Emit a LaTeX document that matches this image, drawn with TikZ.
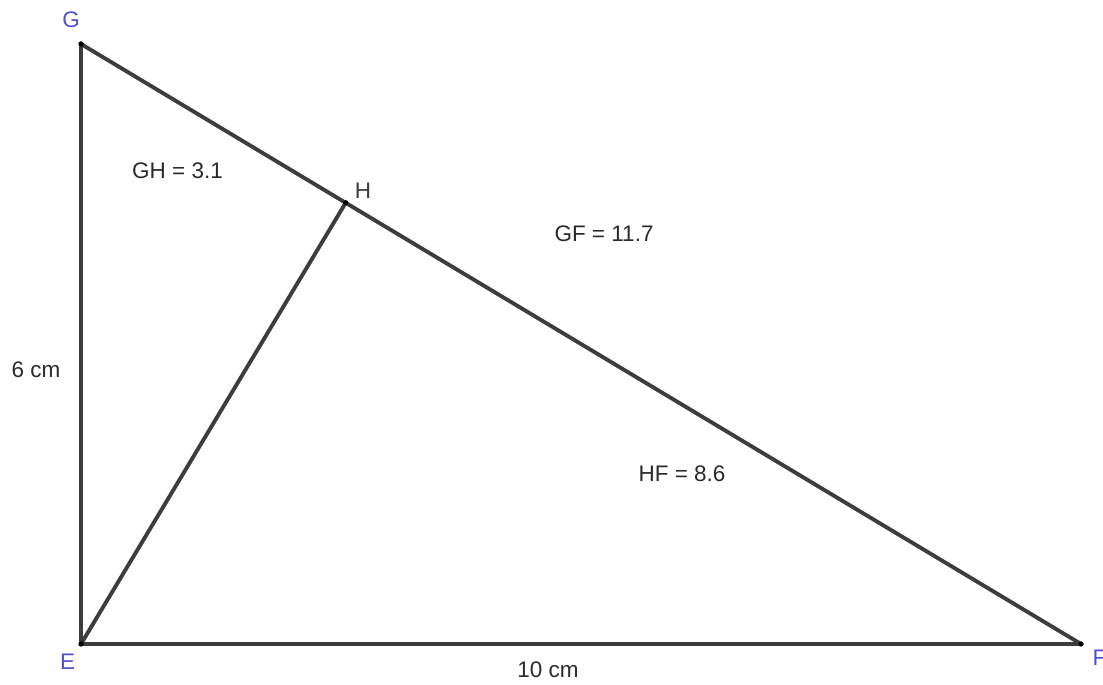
\documentclass[tikz,border=0pt]{standalone}
\usepackage{fontspec}
\setmainfont{Liberation Sans}
\definecolor{seg}{HTML}{3C3C3C}
\definecolor{ptlab}{HTML}{5050CC}
\definecolor{txt}{HTML}{2A2A2A}
\begin{document}
\begin{tikzpicture}[x=1cm,y=1cm,
  segment/.style={draw=seg,line width=1.1pt},
  ptlabel/.style={text=ptlab,inner sep=0pt,font=\fontsize{6.4}{7.5}\selectfont},
  measure/.style={text=txt,inner sep=0pt,font=\fontsize{6.4}{7.5}\selectfont},
  dot/.style={fill=black,draw=none}]
\useasboundingbox (-0.81,-0.41) rectangle (10.22,6.44);
\coordinate (E) at (0,0);
\coordinate (G) at (0,6);
\coordinate (F) at (10,0);
\coordinate (H) at (2.647,4.412);
\draw[segment] (E) -- (G);
\draw[segment] (G) -- (F);
\draw[segment] (E) -- (F);
\draw[segment] (E) -- (H);
\foreach \p in {E,G,F,H} \fill[dot] (\p) circle (0.027);
\node[ptlabel] (lG) at (-0.10,6.24) {G};
\node[ptlabel,text=seg] (lH) at (2.82,4.53) {H};
\node[ptlabel] (lE) at (-0.135,-0.18) {E};
\node[ptlabel,anchor=west] (lF) at (10.11,-0.14) {F};
\node[measure] (mGH) at (0.965,4.73) {GH = 3.1};
\node[measure] (mGF) at (5.23,4.10) {GF = 11.7};
\node[measure] (mHF) at (6.01,1.70) {HF = 8.6};
\node[measure] (m6) at (-0.45,2.74) {6 cm};
\node[measure] (m10) at (4.67,-0.26) {10 cm};
\end{tikzpicture}
\end{document}
